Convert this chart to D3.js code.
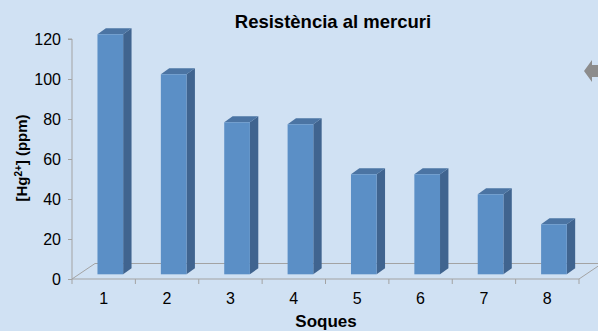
<!DOCTYPE html>
<html>
<head>
<meta charset="utf-8">
<script src="https://cdn.jsdelivr.net/npm/d3@7"></script>
<style>
  html, body { margin: 0; padding: 0; background: #d0e1f3; }
  svg { display: block; }
  text { font-family: "Liberation Sans", Arial, Helvetica, sans-serif; fill: #000; }
</style>
</head>
<body>
<svg id="chart" width="598" height="331"></svg>
<script>
const categories = ["1", "2", "3", "4", "5", "6", "7", "8"];
const values = [120, 100, 76, 75, 50, 50, 40, 25];
const yTicks = [0, 20, 40, 60, 80, 100, 120];
const title = "Resistència al mercuri";
const xTitle = "Soques";

const W = 598, H = 331;
const svg = d3.select("#chart");
svg.append("rect").attr("width", W).attr("height", H).attr("fill", "#d0e1f3");

const x = d3.scaleBand().domain(categories).range([72, 579]).padding(0);
const y = d3.scaleLinear().domain([0, 120]).range([279, 39]);

const floorDx = 23, floorDy = -15.5;
const barDx = 8.4, barDy = -6;
const barShift = -4.7;

const floor = svg.append("g").attr("stroke", "#a3a3a3").attr("stroke-width", 1).attr("fill", "none");
const x0 = x.range()[0], x1 = x.range()[1], y0 = y(0);
floor.append("path").attr("d", `M${x0},${y0}L${x0 + floorDx},${y0 + floorDy}L${x1 + floorDx},${y0 + floorDy}`);
floor.append("path").attr("d", `M${x1},${y0}L${x1 + floorDx},${y0 + floorDy}`);

// Y axis
const yAxis = d3.axisLeft(y).tickValues(yTicks).tickSize(4).tickPadding(7);
const gy = svg.append("g").attr("transform", `translate(${x0},0)`).call(yAxis);
gy.select(".domain").attr("stroke", "#a3a3a3").attr("d", `M-4,${y(120)}H0V${y(0)}`);
gy.selectAll(".tick line").attr("stroke", "#a3a3a3");
gy.selectAll(".tick text").style("font-size", "16px").attr("fill", "#000");

// X axis
const xAxis = d3.axisBottom(x).tickSize(0).tickPadding(14);
const gx = svg.append("g").attr("transform", `translate(0,${y0})`).call(xAxis);
gx.select(".domain").attr("stroke", "#a3a3a3").attr("d", `M${x0},0H${x1}`);
gx.selectAll(".tick text").style("font-size", "16px").attr("fill", "#000");
const tickPos = categories.map(c => x(c)).concat([x1]);
gx.selectAll(".bt").data(tickPos).enter().append("line").attr("class", "bt")
  .attr("x1", d => d).attr("x2", d => d).attr("y1", 0).attr("y2", 5).attr("stroke", "#a3a3a3");

// Bars
const bars = svg.append("g").selectAll("g").data(categories.map((c, i) => ({ c, v: values[i] }))).enter().append("g");
const bw = x.bandwidth();
const fx = d => x(d.c) + bw * 0.402;
const fw = bw * 0.405;
const fy = d => y(d.v) + barShift;
const fb = y(0) + barShift;
// side
bars.append("path").attr("fill", "#40648f").attr("d", d => {
  const l = fx(d) + fw;
  return `M${l},${fy(d)}L${l + barDx},${fy(d) + barDy}L${l + barDx},${fb + barDy}L${l},${fb}Z`;
});
// top
bars.append("path").attr("fill", "#4b74a3").attr("d", d => {
  const l = fx(d);
  return `M${l},${fy(d)}L${l + barDx},${fy(d) + barDy}L${l + fw + barDx},${fy(d) + barDy}L${l + fw},${fy(d)}Z`;
});
// front
bars.append("rect").attr("fill", "#5b8fc6")
  .attr("x", fx).attr("y", fy).attr("width", fw).attr("height", d => fb - fy(d));

// Titles
svg.append("text").attr("x", 333).attr("y", 28).attr("text-anchor", "middle")
  .style("font-size", "18.5px").style("font-weight", "bold").text(title);
svg.append("text").attr("x", 326).attr("y", 326.5).attr("text-anchor", "middle")
  .style("font-size", "17px").style("font-weight", "bold").text(xTitle);
const yl = svg.append("text").attr("transform", "translate(27,158) rotate(-90)").attr("text-anchor", "middle")
  .style("font-size", "15px").style("font-weight", "bold");
yl.append("tspan").text("[Hg");
yl.append("tspan").attr("dy", -5).style("font-size", "10px").text("2+");
yl.append("tspan").attr("dy", 5).text("] (ppm)");

// decorative arrow at right edge
svg.append("path").attr("fill", "#8c8c8c")
  .attr("d", "M584,71L592,60L592,65L600,65L600,77L592,77L592,82Z");
</script>
</body>
</html>
